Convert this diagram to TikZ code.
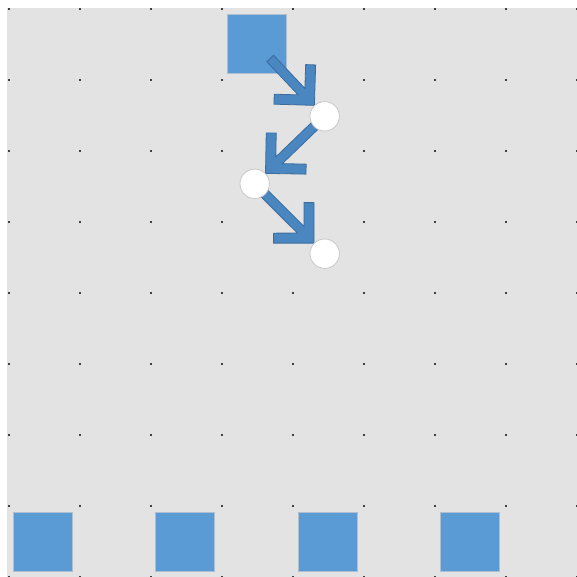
\documentclass[tikz,border=0pt]{standalone}
\usetikzlibrary{calc}
\definecolor{bgc}{HTML}{E3E3E3}
\definecolor{dotc}{HTML}{404040}
\definecolor{sqfill}{HTML}{5B9BD5}
\definecolor{sqdraw}{HTML}{B0BFCF}
\definecolor{arfill}{HTML}{4A86C0}
\definecolor{ardraw}{HTML}{3A6C9E}
\definecolor{cidraw}{HTML}{C8C8C8}
\pgfdeclarelayer{bglayer}
\pgfdeclarelayer{arrlayer}
\pgfsetlayers{bglayer,arrlayer,main}
\tikzset{
  sq/.style={rectangle, minimum size=59pt, inner sep=0pt, fill=sqfill, draw=sqdraw, line width=0.8pt},
  dotnode/.style={circle, minimum size=29.4pt, inner sep=0pt, fill=white, draw=cidraw, line width=0.8pt},
  blockarr/.style={fill=arfill, draw=ardraw, line width=0.8pt, line join=miter},
  gdot/.style={fill=dotc}
}
\newcommand\blockarrow[3]{%
  \pgfmathanglebetweenpoints{\pgfpointanchor{#1}{center}}{\pgfpointanchor{#2}{center}}%
  \edef\baangle{\pgfmathresult}%
  \begin{scope}[shift={($(#2.center)!15pt!(#1.center)$)}, rotate=\baangle, x=1pt, y=1pt]
    \draw[blockarr] (-#3,4.7) -- (-18.9,4.7) -- (-35.7,21.6) -- (-28.6,28.6) -- (0,0)
      -- (-28.6,-28.6) -- (-35.7,-21.6) -- (-18.9,-4.7) -- (-#3,-4.7) -- cycle;
  \end{scope}}
\begin{document}
\begin{tikzpicture}[x=1pt, y=-1pt]
  \useasboundingbox (0,0) rectangle (577,577);
  \begin{pgfonlayer}{bglayer}
    \fill[bgc] (7,8) rectangle (577,577);
    \foreach \i in {0,...,8} {
      \foreach \j in {0,...,8} {
        \fill[gdot] ({8+71*\i},{8+71*\j}) rectangle ++(2,2);
      }
    }
    \node[sq] (top) at (256.4,43.8) {};
    \node[sq] (b1) at (43,541.7) {};
    \node[sq] (b2) at (185.3,541.7) {};
    \node[sq] (b3) at (327.8,541.7) {};
    \node[sq] (b4) at (470.2,541.7) {};
  \end{pgfonlayer}
  \node[dotnode] (c1) at (324.7,116.3) {};
  \node[dotnode] (c2) at (254.7,183.8) {};
  \node[dotnode] (c3) at (324.7,253.7) {};
  \begin{pgfonlayer}{arrlayer}
    \blockarrow{top}{c1}{64.5}
    \blockarrow{c1}{c2}{72}
    \blockarrow{c2}{c3}{72}
  \end{pgfonlayer}
\end{tikzpicture}
\end{document}
